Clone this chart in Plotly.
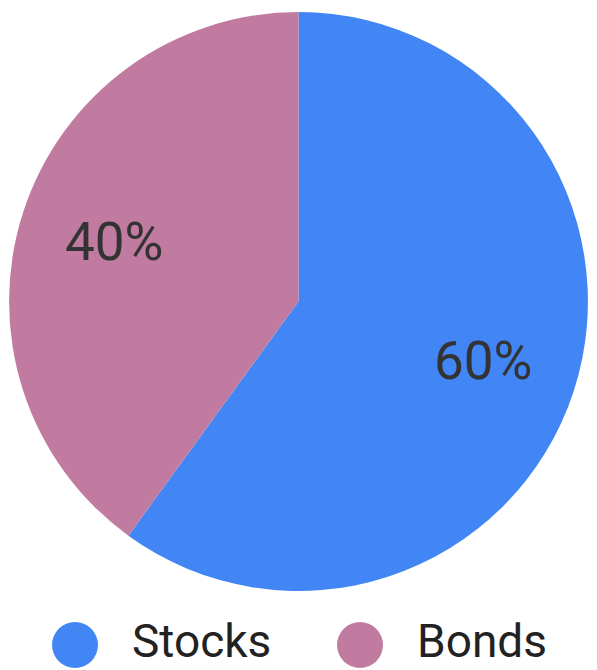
import math
import plotly.graph_objects as go

categories = ["Stocks", "Bonds"]
values = [60, 40]
colors = ["#4285F4", "#C27BA0"]

total = sum(values)
pct_text = [f"{round(v / total * 100)}%" for v in values]

# pie geometry (pixel units on hidden overlay axes)
W, H = 597, 670
pie_dom_y = [0.118, 0.982]
pie_r = (pie_dom_y[1] - pie_dom_y[0]) * H / 2
label_frac = 0.67

fig = go.Figure()

fig.add_trace(go.Pie(
    labels=categories,
    values=values,
    marker=dict(colors=colors, line=dict(width=0)),
    sort=False,
    direction="clockwise",
    rotation=0,
    textinfo="none",
    domain=dict(x=[0, 1], y=pie_dom_y),
    showlegend=False,
    hoverinfo="label+percent",
))

# slice percentage labels, placed at the slice mid-angles (clockwise from 12 o'clock)
cum = 0
for v, t in zip(values, pct_text):
    mid = (cum + v / 2) / total * 2 * math.pi
    cum += v
    fig.add_annotation(
        x=label_frac * pie_r * math.sin(mid),
        y=label_frac * pie_r * math.cos(mid),
        xref="x3", yref="y3",
        text=t, showarrow=False,
        xanchor="center", yanchor="middle",
        font=dict(family="Roboto", size=53, color="#333333"),
    )

# legend row: markers
fig.add_trace(go.Scatter(
    x=categories,
    y=[0] * len(categories),
    mode="markers",
    marker=dict(size=46, color=colors, symbol="circle", line=dict(width=0)),
    showlegend=False,
    hoverinfo="skip",
))
# legend row: labels
fig.add_trace(go.Scatter(
    x=categories,
    y=[0] * len(categories),
    xaxis="x2",
    mode="text",
    text=categories,
    textposition="middle right",
    textfont=dict(family="Roboto", size=46, color="#222222"),
    showlegend=False,
    hoverinfo="skip",
))

fig.update_layout(
    width=W,
    height=H,
    margin=dict(l=0, r=0, t=0, b=0),
    paper_bgcolor="white",
    plot_bgcolor="rgba(0,0,0,0)",
    xaxis=dict(domain=[0, 1], range=[-0.2632, 1.8316], visible=False, fixedrange=True),
    xaxis2=dict(domain=[0, 1], range=[-0.4632, 1.6316], visible=False, fixedrange=True,
                overlaying="x", anchor="y"),
    yaxis=dict(domain=[0, 0.0746], range=[-1, 1], visible=False, fixedrange=True),
    xaxis3=dict(domain=[0, 1], range=[-W / 2, W / 2], visible=False, fixedrange=True,
                anchor="y3"),
    yaxis3=dict(domain=pie_dom_y, range=[-pie_r, pie_r], visible=False, fixedrange=True,
                anchor="x3"),
)

fig.write_html("out.html", config={"displayModeBar": False},
               post_script="document.body.style.margin='0';")
